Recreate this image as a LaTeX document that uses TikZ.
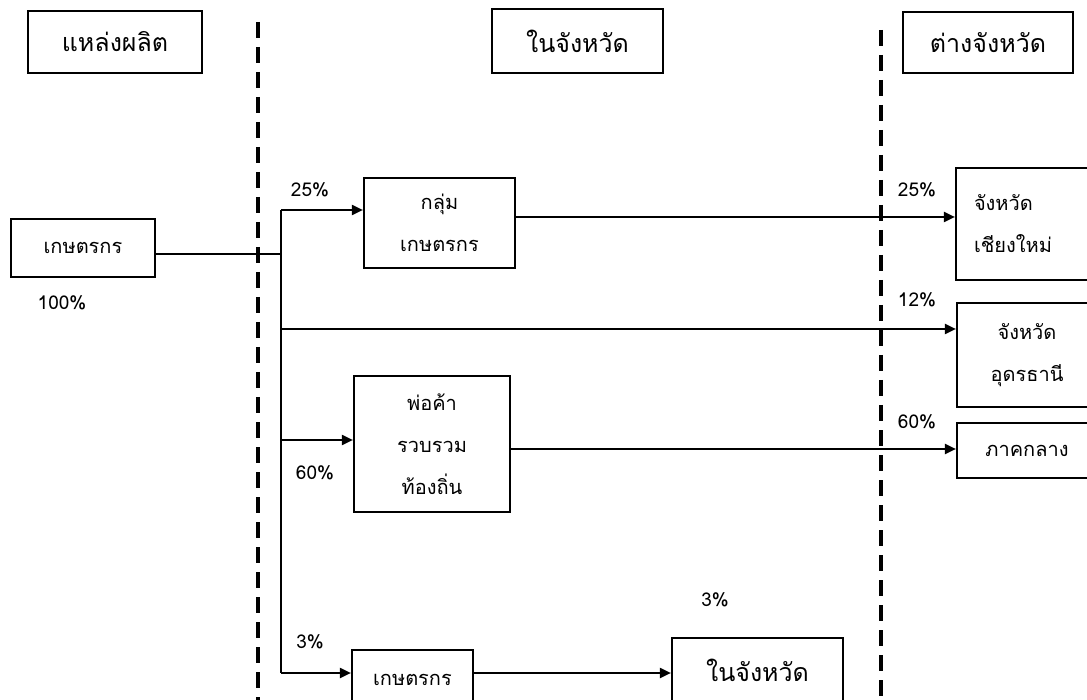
\documentclass[tikz,border=0pt]{standalone}
\usepackage{fontspec}
\usetikzlibrary{arrows.meta}
\newfontfamily\thaifont[Script=Thai]{Loma}
\tikzset{
  x=1pt, y=-1pt,
  box/.style={draw, line width=2.2pt, rectangle, inner sep=0pt, font=\thaifont\fontsize{20}{42}\selectfont, align=center},
  hbox/.style={box, font=\thaifont\fontsize{25}{30}\selectfont},
  pct/.style={font=\thaifont\fontsize{19}{22}\selectfont, inner sep=0pt},
  conn/.style={line width=2pt},
  arr/.style={conn, -{Triangle[length=11pt,width=10pt]}},
  divider/.style={line width=4pt, dash pattern=on 16pt off 9pt}
}
\begin{document}
\begin{tikzpicture}
\useasboundingbox (0,0) rectangle (1087,700);
\clip (0,0) rectangle (1087,700);
% headers
\node[hbox, minimum width=174pt, minimum height=62pt] (src) at (115,42) {แหล่งผลิต};
\node[hbox, minimum width=171pt, minimum height=64pt] (hin) at (577.5,41) {ในจังหวัด};
\node[hbox, minimum width=170pt, minimum height=61pt] (hout) at (988,42.5) {ต่างจังหวัด};
% dividers
\coordinate (d1t) at (258,22);
\coordinate (d1b) at (258,705);
\coordinate (d2t) at (881,30);
\coordinate (d2b) at (881,705);
\draw[divider] (d1t) -- (d1b);
\draw[divider] (d2t) -- (d2b);
% boxes
\node[box, minimum width=144pt, minimum height=58pt] (farmer) at (83,248) {เกษตรกร};
\node[box, minimum width=151pt, minimum height=90pt] (group) at (439.5,223) {กลุ่ม\\เกษตรกร};
\node[box, minimum width=156pt, minimum height=136pt] (trader) at (432,444) {พ่อค้า\\รวบรวม\\ท้องถิ่น};
\node[box, minimum width=121pt, minimum height=60pt] (farmer2) at (412.5,680) {เกษตรกร};
\node[hbox, minimum width=171pt, minimum height=64pt] (inprov) at (757.5,670) {ในจังหวัด};
\node[box, minimum height=112pt, text width=120pt, inner xsep=18pt, align=left] (cm) at (1034,224) {จังหวัด\\เชียงใหม่};
\node[box, minimum width=140pt, minimum height=104pt] (ud) at (1027,355) {จังหวัด\\อุดรธานี};
\node[box, minimum width=140pt, minimum height=55pt] (central) at (1027,450.5) {ภาคกลาง};
% trunk
\coordinate (j0) at (281,254);
\coordinate (jt) at (281,210);
\coordinate (j12) at (281,329);
\coordinate (j60) at (281,440);
\coordinate (jb) at (281,673);
\draw[conn] (farmer.east |- j0) -- (j0);
\draw[conn] (jt) -- (jb);
\draw[arr] (jt) -- (group.west |- jt);
\draw[arr] (j12) -- (ud.west |- j12);
\draw[arr] (j60) -- (trader.west |- j60);
\draw[arr] (jb) -- (farmer2.west |- jb);
\coordinate (g1) at (515,217);
\draw[arr] (group.east |- g1) -- (cm.west |- g1);
\coordinate (t1) at (510,449);
\draw[arr] (trader.east |- t1) -- (central.west |- t1);
\draw[arr] (farmer2.east |- jb) -- (inprov.west |- jb);
% labels
\node[pct] (p100) at (62,303) {100\%};
\node[pct] (p25a) at (310,190) {25\%};
\node[pct] (p25b) at (917,190) {25\%};
\node[pct] (p12) at (917,300) {12\%};
\node[pct] (p60b) at (917,422) {60\%};
\node[pct] (p60a) at (315,473) {60\%};
\node[pct] (p3a) at (310,642) {3\%};
\node[pct] (p3b) at (715,600) {3\%};
\end{tikzpicture}
\end{document}
